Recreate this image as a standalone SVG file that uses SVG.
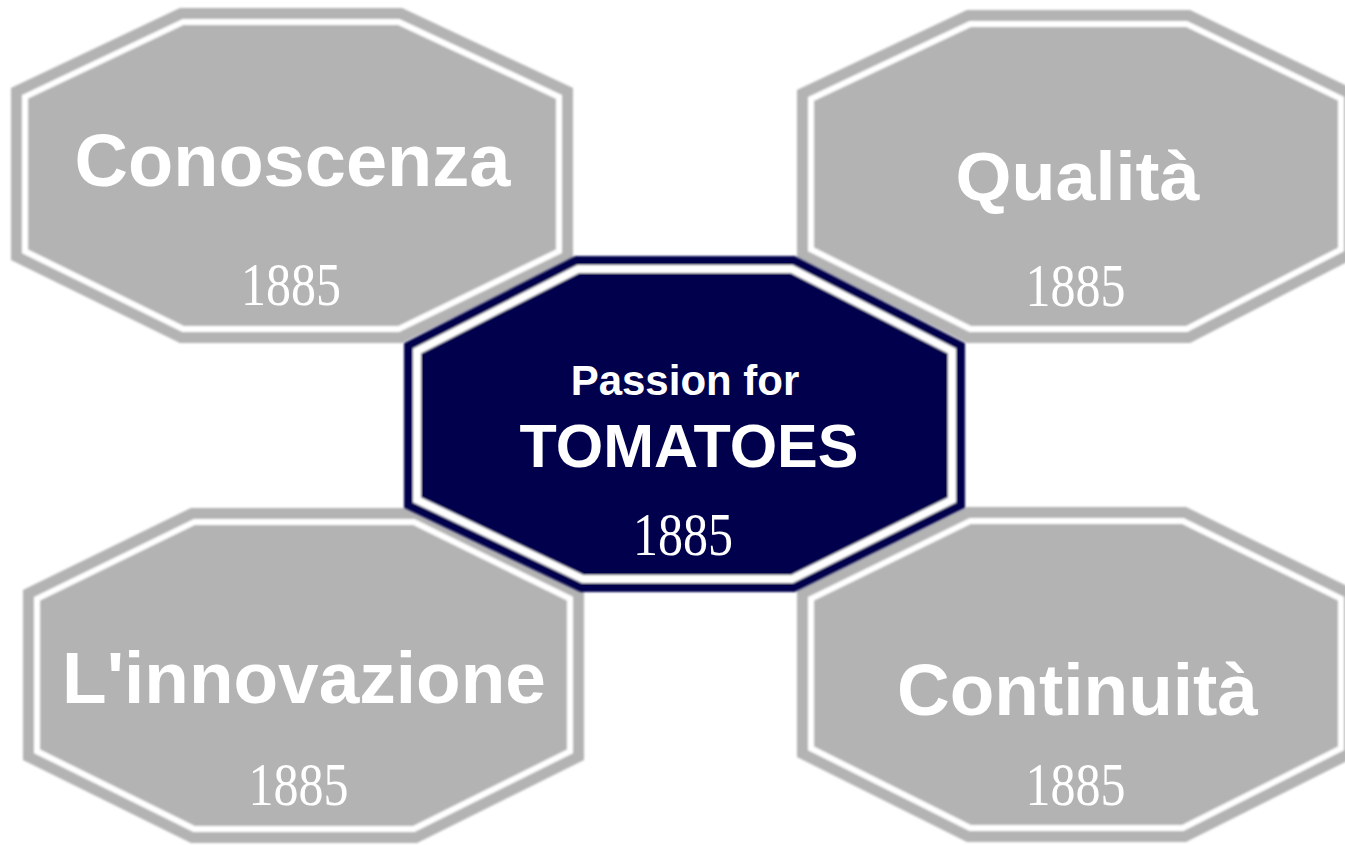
<svg xmlns="http://www.w3.org/2000/svg" xmlns:xlink="http://www.w3.org/1999/xlink" width="1345" height="845" viewBox="0 0 1345 845">
<style>
.gfill{fill:#b3b3b3;stroke:#ffffff;stroke-width:34}
.gband{fill:none;stroke:#b3b3b3;stroke-width:22}
.nfill{fill:#00004e;stroke:#ffffff;stroke-width:34}
.nband{fill:none;stroke:#00004e;stroke-width:18}
.lbl{font-family:"Liberation Sans",Arial,Helvetica,sans-serif;font-weight:bold;fill:#ffffff;text-anchor:middle}
.yr{font-family:"Liberation Serif","Times New Roman",serif;fill:#ffffff;text-anchor:middle;font-size:62px}
</style>
<defs>
<polygon id="p1" points="180,8 402,8 573,88 573,260 402,343 180,343 11,260 11,88"/>
<polygon id="p2" points="967,10 1190,10 1355,90 1355,258 1190,343 967,343 797,258 797,90"/>
<polygon id="p3" points="191,508 417,508 584,590 584,760 417,843 191,843 23,760 23,590"/>
<polygon id="p4" points="967,507 1186,507 1355,590 1355,757 1186,842 967,842 797,757 797,590"/>
<polygon id="p5" points="575,256 795,256 965,343 965,508 795,592 580,592 404,508 404,343"/>
<clipPath id="c1"><use xlink:href="#p1"/></clipPath>
<clipPath id="c2"><use xlink:href="#p2"/></clipPath>
<clipPath id="c3"><use xlink:href="#p3"/></clipPath>
<clipPath id="c4"><use xlink:href="#p4"/></clipPath>
<clipPath id="c5"><use xlink:href="#p5"/></clipPath>
<filter id="soft" x="-5%" y="-5%" width="110%" height="110%"><feGaussianBlur stdDeviation="1.1"/></filter>
<filter id="softt" x="-5%" y="-5%" width="110%" height="110%"><feGaussianBlur stdDeviation="0.7"/></filter>
</defs>
<rect width="1345" height="845" fill="#ffffff"/>
<g id="connectors"/>
<g id="conoscenza">
<g filter="url(#soft)"><g clip-path="url(#c1)"><use xlink:href="#p1" class="gfill"/><use xlink:href="#p1" class="gband"/></g></g>
<text class="lbl" x="292.5" y="186" font-size="74">Conoscenza</text>
<text class="yr" x="291" y="305" textLength="100" lengthAdjust="spacingAndGlyphs" filter="url(#softt)">1885</text>
</g>
<g id="qualita">
<g filter="url(#soft)"><g clip-path="url(#c2)"><use xlink:href="#p2" class="gfill"/><use xlink:href="#p2" class="gband"/></g></g>
<text class="lbl" font-size="72" transform="translate(1077.5,200) scale(1,0.94)">Qualità</text>
<text class="yr" x="1075.5" y="306" textLength="100" lengthAdjust="spacingAndGlyphs" filter="url(#softt)">1885</text>
</g>
<g id="innovazione">
<g filter="url(#soft)"><g clip-path="url(#c3)"><use xlink:href="#p3" class="gfill"/><use xlink:href="#p3" class="gband"/></g></g>
<text class="lbl" x="304" y="703" font-size="73">L'innovazione</text>
<text class="yr" x="298.5" y="805" textLength="100" lengthAdjust="spacingAndGlyphs" filter="url(#softt)">1885</text>
</g>
<g id="continuita">
<g filter="url(#soft)"><g clip-path="url(#c4)"><use xlink:href="#p4" class="gfill"/><use xlink:href="#p4" class="gband"/></g></g>
<text class="lbl" x="1077.5" y="715" font-size="73">Continuità</text>
<text class="yr" x="1075.5" y="805" textLength="100" lengthAdjust="spacingAndGlyphs" filter="url(#softt)">1885</text>
</g>
<g id="center">
<g filter="url(#soft)"><g clip-path="url(#c5)"><use xlink:href="#p5" class="nfill"/><use xlink:href="#p5" class="nband"/></g></g>
<text class="lbl" x="685" y="395" font-size="42">Passion for</text>
<text class="lbl" x="689" y="467" font-size="61">TOMATOES</text>
<text class="yr" x="683" y="555" textLength="100" lengthAdjust="spacingAndGlyphs" filter="url(#softt)">1885</text>
</g>
</svg>
